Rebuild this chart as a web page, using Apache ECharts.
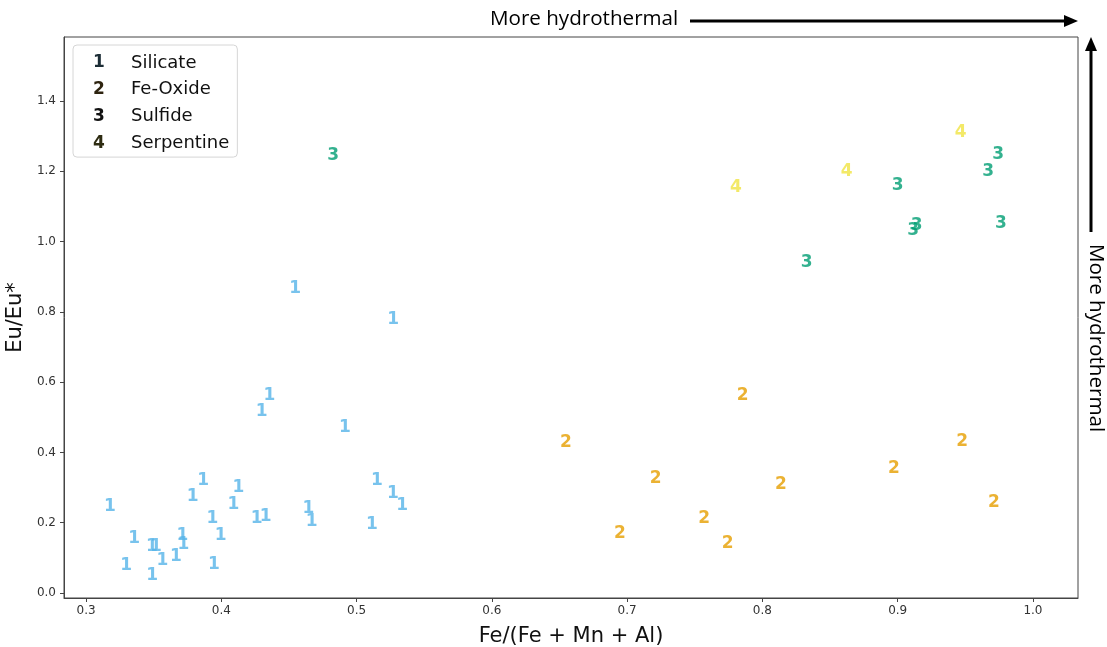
<!DOCTYPE html>
<html>
<head>
<meta charset="utf-8">
<script src="https://cdn.jsdelivr.net/npm/echarts@6/dist/echarts.min.js"></script>
<style>
html,body{margin:0;padding:0;background:#fff;}
#chart{width:1107px;height:647px;}
</style>
</head>
<body>
<div id="chart"></div>
<script>
// ---- data ----
const groupNames = ['Silicate', 'Fe-Oxide', 'Sulfide', 'Serpentine'];
const groupDigits = ['1', '2', '3', '4'];

const silicate = [
  [0.3177, 0.2553], [0.3355, 0.1631], [0.3296, 0.0862], [0.3486, 0.1394], [0.3517, 0.1394],
  [0.3488, 0.0578], [0.3564, 0.1016], [0.3665, 0.1110], [0.3712, 0.1716], [0.3719, 0.1460],
  [0.3789, 0.2837], [0.3865, 0.3293], [0.3934, 0.2191], [0.3946, 0.0891], [0.3996, 0.1727],
  [0.4089, 0.2598], [0.4126, 0.3093], [0.4262, 0.2200], [0.4328, 0.2268], [0.4299, 0.5256],
  [0.4355, 0.5700], [0.4545, 0.8736], [0.4643, 0.2476], [0.4668, 0.2114], [0.4914, 0.4801],
  [0.5114, 0.2020], [0.5151, 0.3273], [0.5271, 0.7863], [0.5269, 0.2903], [0.5336, 0.2561]
];
const feOxide = [
  [0.6548, 0.4354], [0.7854, 0.5711], [0.7211, 0.3330], [0.6947, 0.1773], [0.7570, 0.2211],
  [0.7743, 0.1488], [0.8137, 0.3159], [0.8972, 0.3634], [0.9477, 0.4391], [0.9711, 0.2667]
];
const sulfide = [
  [0.4826, 1.2521], [0.8327, 0.9476], [0.9000, 1.1676], [0.9140, 1.0538], [0.9115, 1.0396],
  [0.9743, 1.2558], [0.9669, 1.2086], [0.9763, 1.0595]
];
const serpentine = [
  [0.7804, 1.1611], [0.8623, 1.2075], [0.9465, 1.3196]
];

const xTicks = [0.3, 0.4, 0.5, 0.6, 0.7, 0.8, 0.9, 1.0];
const yTicks = [0.0, 0.2, 0.4, 0.6, 0.8, 1.0, 1.2, 1.4];
const xTitle = 'Fe/(Fe + Mn + Al)';
const yTitle = 'Eu/Eu*';
const arrowText = 'More hydrothermal';

// ---- styles ----
const colors = ['#56B4E9', '#E69F00', '#009E73', '#F0E442'];
const legendDigitColors = ['#1c2d36', '#2e2410', '#111111', '#2e2c12'];
const groups = [silicate, feOxide, sulfide, serpentine];
const FONT = 'DejaVu Sans';
const ANN_FONT = 'Open Sans';
const axisColor = '#444';

const chart = echarts.init(document.getElementById('chart'), null, {renderer: 'canvas'});

const series = groups.map((d, i) => ({
  type: 'scatter',
  name: groupNames[i],
  data: d,
  symbol: 'circle',
  symbolSize: 1,
  itemStyle: {color: 'rgba(0,0,0,0)'},
  label: {
    show: true,
    position: 'inside',
    offset: [0, 3],
    formatter: groupDigits[i],
    color: colors[i],
    fontFamily: FONT,
    fontWeight: 'bold',
    fontSize: 17
  },
  emphasis: {disabled: true},
  z: 3
}));

const rich = {t: {fontFamily: FONT, fontSize: 18, color: '#111', padding: [0, 0, 0, 27]}};
groupDigits.forEach((g, i) => {
  rich['n' + i] = {fontFamily: FONT, fontSize: 17, fontWeight: 'bold', color: legendDigitColors[i], width: 10, align: 'center'};
});

const option = {
  backgroundColor: '#fff',
  animation: false,
  grid: {left: 64, right: 29, top: 37, bottom: 49, show: true, borderColor: axisColor, borderWidth: 1,
         backgroundColor: 'transparent', containLabel: false, outerBoundsMode: 'none'},
  legend: {
    orient: 'vertical',
    left: 73,
    top: 45,
    data: groupNames,
    icon: 'rect',
    itemWidth: 10,
    itemHeight: 14,
    itemGap: 6.7,
    itemStyle: {opacity: 0},
    selectedMode: false,
    backgroundColor: '#fff',
    borderColor: '#d6d6d6',
    borderWidth: 1,
    borderRadius: 4,
    padding: [8, 8, 4, 6],
    textStyle: {fontFamily: FONT, fontSize: 18, color: '#111', lineHeight: 20, rich: rich},
    formatter: function (name) {
      const i = groupNames.indexOf(name);
      return '{n' + i + '|' + groupDigits[i] + '}{t|' + name + '}';
    }
  },
  xAxis: {
    type: 'value',
    min: 0.2837,
    max: 1.0333,
    name: xTitle,
    nameLocation: 'middle',
    nameGap: 28,
    nameTextStyle: {fontFamily: FONT, fontSize: 21, color: '#111'},
    axisLine: {show: true, onZero: false, lineStyle: {color: axisColor, width: 1}},
    axisTick: {show: true, customValues: xTicks, length: 4, lineStyle: {color: axisColor}},
    axisLabel: {customValues: xTicks, formatter: v => v.toFixed(1), fontFamily: FONT, fontSize: 12, color: '#333', margin: 7},
    splitLine: {show: false}
  },
  yAxis: {
    type: 'value',
    min: -0.0142,
    max: 1.582,
    name: yTitle,
    nameLocation: 'middle',
    nameRotate: 90,
    nameGap: 36,
    nameTextStyle: {fontFamily: FONT, fontSize: 21, color: '#111'},
    axisLine: {show: true, onZero: false, lineStyle: {color: axisColor, width: 1}},
    axisTick: {show: true, customValues: yTicks, length: 4, lineStyle: {color: axisColor}},
    axisLabel: {customValues: yTicks, formatter: v => v.toFixed(1), fontFamily: FONT, fontSize: 12, color: '#333', margin: 8},
    splitLine: {show: false}
  },
  graphic: [
    {type: 'text', x: 490, y: 19, style: {text: arrowText, fontFamily: ANN_FONT, fontSize: 20.6, fill: '#000', align: 'left', verticalAlign: 'middle'}},
    {type: 'line', shape: {x1: 690, y1: 21, x2: 1066, y2: 21}, style: {stroke: '#000', lineWidth: 3}},
    {type: 'polygon', shape: {points: [[1064, 15], [1078, 21], [1064, 27]]}, style: {fill: '#000'}},
    {type: 'line', shape: {x1: 1091, y1: 232, x2: 1091, y2: 49}, style: {stroke: '#000', lineWidth: 3}},
    {type: 'polygon', shape: {points: [[1085, 51], [1091, 37], [1097, 51]]}, style: {fill: '#000'}},
    {type: 'text', x: 1096, y: 338, rotation: -Math.PI / 2, style: {text: arrowText, fontFamily: ANN_FONT, fontSize: 20.6, fill: '#000', align: 'center', verticalAlign: 'middle'}}
  ],
  series: series
};

chart.setOption(option);
</script>
</body>
</html>
